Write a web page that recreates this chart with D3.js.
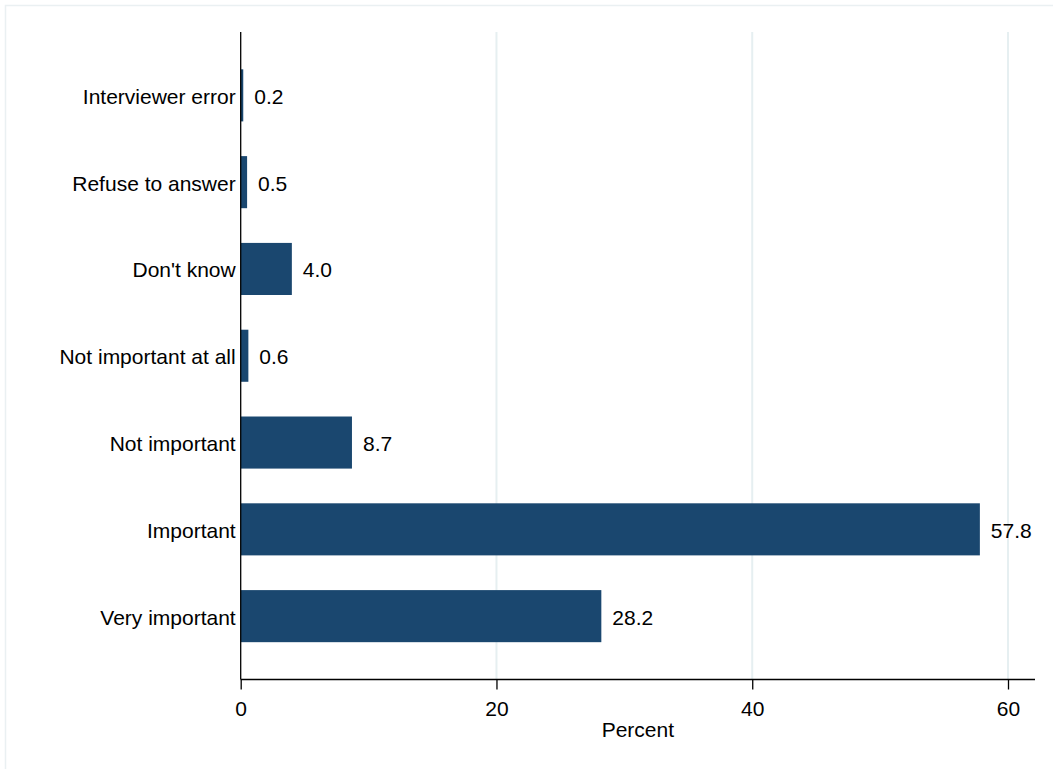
<!DOCTYPE html>
<html>
<head>
<meta charset="utf-8">
<script src="https://cdn.jsdelivr.net/npm/d3@7/dist/d3.min.js"></script>
<style>
html,body{margin:0;padding:0;background:#fff;}
svg{display:block;}
text{font-family:"Liberation Sans",Arial,Helvetica,sans-serif;fill:#000;}
</style>
</head>
<body>
<svg id="chart" width="1053" height="769"></svg>
<script>
const categories = ["Interviewer error","Refuse to answer","Don't know","Not important at all","Not important","Important","Very important"];
const values = [0.2, 0.5, 4.0, 0.6, 8.7, 57.8, 28.2];
const xTicks = [0, 20, 40, 60];
const xTitle = "Percent";

const svg = d3.select("#chart");
const plotLeft = 240.7, plotRight = 1035, plotTop = 32, plotBottom = 679.5;
const fs = 21;

// outer frame
svg.append("rect").attr("x",5.5).attr("y",5.5).attr("width",1200).attr("height",1000)
  .attr("fill","none").attr("stroke","#eaf0f2").attr("stroke-width",1.5);

const x = d3.scaleLinear().domain([0,60]).range([plotLeft,1008]);
const y = d3.scaleBand().domain(categories).range([plotTop,plotBottom]).paddingInner(0.4).paddingOuter(0.43);

// gridlines
svg.append("g").selectAll("line").data(xTicks.filter(d=>d>0)).join("line")
  .attr("x1",d=>x(d)).attr("x2",d=>x(d)).attr("y1",plotTop).attr("y2",plotBottom)
  .attr("stroke","#e6eff1").attr("stroke-width",2);

// bars
svg.append("g").selectAll("rect").data(categories).join("rect")
  .attr("x",x(0)).attr("y",d=>y(d))
  .attr("width",(d,i)=>x(values[i])-x(0)).attr("height",y.bandwidth())
  .attr("fill","#1a476f");

// value labels
svg.append("g").selectAll("text").data(categories).join("text")
  .attr("x",(d,i)=>x(values[i])+11).attr("y",d=>y(d)+y.bandwidth()/2)
  .attr("dy","0.4em").attr("font-size",fs)
  .text((d,i)=>values[i].toFixed(1));

// x axis
const xAxis = d3.axisBottom(x).tickValues(xTicks).tickSize(10).tickPadding(11.5).tickFormat(d3.format("d"));
const gx = svg.append("g").attr("transform",`translate(0,${plotBottom})`).call(xAxis);
gx.select(".domain").remove();
gx.append("line").attr("x1",plotLeft).attr("x2",plotRight).attr("y1",0).attr("y2",0).attr("stroke","#000").attr("stroke-width",1.3);
gx.selectAll(".tick line").attr("stroke","#000").attr("stroke-width",1.3);
gx.selectAll(".tick text").attr("font-size",fs).attr("fill","#000")
  .attr("font-family","'Liberation Sans',Arial,sans-serif");

// y axis
const yAxis = d3.axisLeft(y).tickSize(0).tickPadding(5);
const gy = svg.append("g").attr("transform",`translate(${plotLeft},0)`).call(yAxis);
gy.select(".domain").remove();
gy.append("line").attr("x1",0).attr("x2",0).attr("y1",plotTop).attr("y2",plotBottom).attr("stroke","#000").attr("stroke-width",1.3);
gy.selectAll(".tick text").attr("font-size",fs).attr("fill","#000").attr("dy","0.4em")
  .attr("font-family","'Liberation Sans',Arial,sans-serif");

// x title
svg.append("text").attr("x",(plotLeft+plotRight)/2).attr("y",737).attr("text-anchor","middle")
  .attr("font-size",fs).text(xTitle);
</script>
</body>
</html>
